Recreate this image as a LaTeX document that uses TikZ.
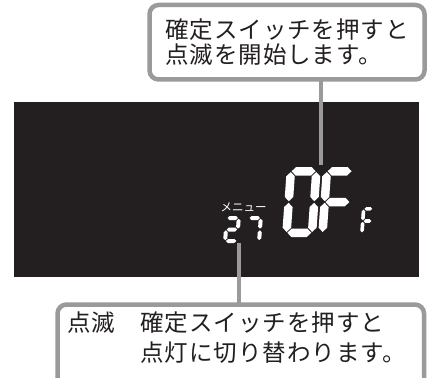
\documentclass[tikz,border=0pt]{standalone}
\usepackage{fontspec}
\newfontfamily\jpfont{Noto Sans CJK JP}
\newfontfamily\jpwide{Noto Sans CJK JP}[LetterSpace=4]
\usetikzlibrary{positioning}

\definecolor{lcdback}{HTML}{231F20}
\definecolor{leadgray}{HTML}{9A9A9A}
\definecolor{inktext}{HTML}{231F20}

% seven-segment pieces (\dw width, \dh height, \dt stroke, \gp gap)
\newcommand{\hseg}[1]{\fill[white] ({\dt/2+\gp},{#1}) -- ({\dt+\gp},{#1+\dt/2}) -- ({\dw-\dt-\gp},{#1+\dt/2}) -- ({\dw-\dt/2-\gp},{#1}) -- ({\dw-\dt-\gp},{#1-\dt/2}) -- ({\dt+\gp},{#1-\dt/2}) -- cycle;}
\newcommand{\vseg}[3]{\fill[white] ({#1},{#2+\gp}) -- ({#1+\dt/2},{#2+\gp+\dt/2}) -- ({#1+\dt/2},{#3-\gp-\dt/2}) -- ({#1},{#3-\gp}) -- ({#1-\dt/2},{#3-\gp-\dt/2}) -- ({#1-\dt/2},{#2+\gp+\dt/2}) -- cycle;}
\def\lcdsega{\hseg{\dh-\dt/2}}
\def\lcdsegb{\vseg{\dw-\dt/2}{\dh/2}{\dh-\dt/2}}
\def\lcdsegc{\vseg{\dw-\dt/2}{\dt/2}{\dh/2}}
\def\lcdsegd{\hseg{\dt/2}}
\def\lcdsege{\vseg{\dt/2}{\dt/2}{\dh/2}}
\def\lcdsegf{\vseg{\dt/2}{\dh/2}{\dh-\dt/2}}
\def\lcdsegg{\hseg{\dh/2}}
\newcommand{\lcddigit}[6]{% bottom-left x, y, width, height, stroke, segments
  \begin{scope}[shift={(#1,#2)},y=1pt,xslant=0.07]
    \pgfmathsetmacro\dw{#3}\pgfmathsetmacro\dh{#4}\pgfmathsetmacro\dt{#5}\def\gp{0.8}
    \foreach \s in {#6}{\csname lcdseg\s\endcsname}
  \end{scope}}

\begin{document}
\begin{tikzpicture}[x=1pt,y=-1pt,every node/.style={font=\jpfont},
  callout/.style={draw=leadgray,line width=4.5pt,rounded corners=9pt,fill=white,outer sep=0pt},
  leader/.style={draw=leadgray,line width=4.2pt}]
\useasboundingbox (0,0) rectangle (427,377);
\clip (0,0) rectangle (427,377);

% display panel
\fill[lcdback] (14,102) rectangle (419,277);
\node[white,inner sep=0pt,font=\jpfont\fontsize{11.5}{11.5}\selectfont] (menu) at (243.5,207) {メニュー};
\lcddigit{223}{243}{16}{27}{4}{a,b,g,e,d}
\lcddigit{245}{243}{16}{27}{4}{a,b,c}
\lcddigit{282}{237}{34}{70}{8.5}{a,b,c,d,e,f}
\lcddigit{318}{237}{34}{70}{8.5}{a,e,f,g}
\lcddigit{360}{235}{13}{28}{3.6}{a,e,f,g}
\coordinate (zerotop) at (321,165);
\coordinate (twofoot) at (239,243);

% callouts
\node[callout,minimum width=275pt,minimum height=74.5pt,text=inktext,align=left,
  font=\jpwide\fontsize{23.5}{25}\selectfont] (tbox) at (287,42.25)
  {確定スイッチを押すと\\点滅を開始します。};
\node[callout,minimum width=366.5pt,minimum height=95pt,anchor=north west] (bbox) at (57.5,304.5) {};
\node[text=inktext,anchor=north west,inner sep=0pt,align=left,
  font=\jpwide\fontsize{23.5}{30}\selectfont] (bnote) at (67,312)
  {\makebox[73.3pt][l]{点滅}確定スイッチを押すと\\\hspace*{73.3pt}点灯に切り替わります。};
\draw[leader] (tbox.south -| zerotop) -- (zerotop);
\draw[leader] (bbox.north -| twofoot) -- (twofoot);
\end{tikzpicture}
\end{document}
